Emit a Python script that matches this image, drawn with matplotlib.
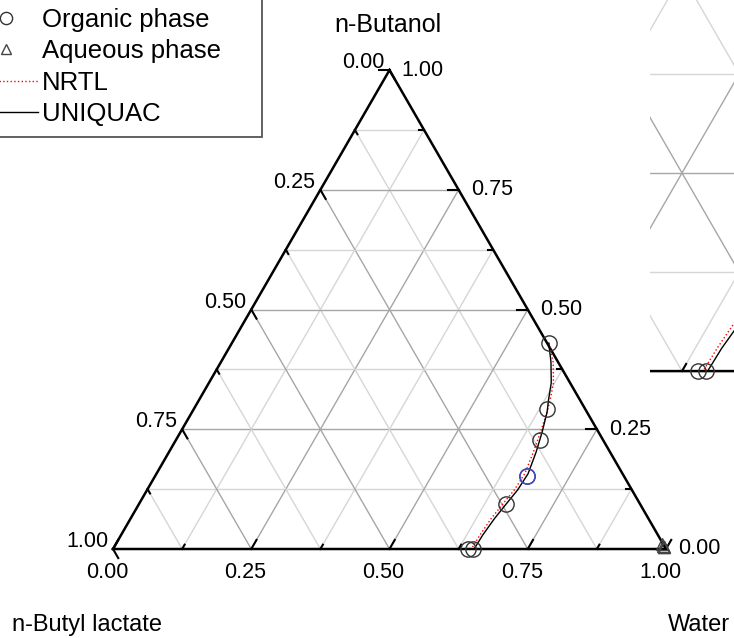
import numpy as np
import matplotlib.pyplot as plt
from matplotlib.patches import Rectangle

plt.rcParams['font.family'] = ['Liberation Sans', 'DejaVu Sans']

# Mass fractions; n-butyl lactate = 1 - water - n-butanol
org_water = [0.573, 0.639, 0.658, 0.673, 0.663, 0.651, 0.642]
org_butanol = [0.430, 0.292, 0.228, 0.152, 0.095, 0.000, 0.000]

aq_water = [0.988, 0.991, 0.993, 0.995]
aq_butanol = [0.010, 0.007, 0.005, 0.004]

# binodal curves (organic branch)
uniquac_water = [0.573, 0.597, 0.619, 0.632, 0.642, 0.654, 0.664, 0.672, 0.670, 0.664, 0.658, 0.654, 0.653]
uniquac_butanol = [0.430, 0.390, 0.347, 0.311, 0.286, 0.244, 0.202, 0.157, 0.123, 0.094, 0.063, 0.029, 0.000]
nrtl_water = [0.573, 0.601, 0.623, 0.635, 0.642, 0.651, 0.659, 0.666, 0.664, 0.658, 0.652, 0.649, 0.648]
nrtl_butanol = [0.430, 0.390, 0.347, 0.311, 0.286, 0.244, 0.202, 0.157, 0.123, 0.094, 0.063, 0.029, 0.000]

tick_vals = [0.0, 0.25, 0.5, 0.75, 1.0]
tick_labels = ['0.00', '0.25', '0.50', '0.75', '1.00']

H = np.sqrt(3) / 2


def to_xy(water, butanol):
    w = np.asarray(water)
    b = np.asarray(butanol)
    return w + b / 2, b * H


def draw_ternary(ax):
    # grid every 1/8
    for k in range(1, 8):
        f = k / 8
        c = '#a6a6a6' if k % 2 == 0 else '#d6d6d6'
        ax.plot([f / 2, 1 - f / 2], [f * H, f * H], color=c, lw=1, zorder=1)
        ax.plot([f, f + (1 - f) / 2], [0, (1 - f) * H], color=c, lw=1, zorder=1)
        ax.plot([1 - f, (1 - f) / 2], [0, (1 - f) * H], color=c, lw=1, zorder=1)
    ax.plot([0, 1, 0.5, 0], [0, 0, H, 0], color='black', lw=1.8, zorder=2,
            solid_joinstyle='miter')
    # ticks: long at quarters, short at eighths
    for k in range(9):
        f = k / 8
        tl = 0.019 if k % 2 == 0 else 0.009
        ax.plot([f, f + tl / 2], [0, tl * H], color='black', lw=1.5, zorder=2)
        x, y = 1 - f / 2, f * H
        ax.plot([x, x - tl], [y, y], color='black', lw=1.5, zorder=2)
        x, y = (1 - f) / 2, (1 - f) * H
        ax.plot([x, x + tl / 2], [y, y - tl * H], color='black', lw=1.5, zorder=2)

    x, y = to_xy(org_water, org_butanol)
    ax.plot(x, y, 'o', ms=11, mfc='none', mec='#333333', mew=1, zorder=4,
            label='Organic phase')
    ax.plot(x[3], y[3], 'o', ms=11, mfc='none', mec='#4646c8', mew=1, zorder=4)
    x, y = to_xy(aq_water, aq_butanol)
    ax.plot(x, y, '^', ms=9, mfc='none', mec='#444444', mew=1, zorder=4,
            label='Aqueous phase')
    x, y = to_xy(nrtl_water, nrtl_butanol)
    ax.plot(x, y, color='red', ls=':', lw=1, zorder=3, label='NRTL')
    x, y = to_xy(uniquac_water, uniquac_butanol)
    ax.plot(x, y, color='black', lw=1, zorder=3, label='UNIQUAC')


fig = plt.figure(figsize=(7.34, 6.38), dpi=100)
ax = fig.add_axes([0, 0, 1, 1])
ax.set_xlim(-113 / 553, 621 / 553)
ax.set_ylim(-89 / 553, 549 / 553)
ax.set_axis_off()
draw_ternary(ax)

u = 1 / 553
for v, lab in zip(tick_vals, tick_labels):
    # water (bottom)
    ax.text(v - 6 * u, -23 * u, lab, ha='center', va='center', fontsize=15.5)
    # n-butanol (right)
    ax.text(1 - v / 2 + 12 * u, v * H, lab, ha='left', va='center', fontsize=15.5)
    # n-butyl lactate (left)
    ax.text((1 - v) / 2 - 5 * u, (1 - v) * H + 2 * u, lab, ha='right',
            va='baseline', fontsize=15.5)

ax.text(275 * u, 524 * u, 'n-Butanol', ha='center', va='center', fontsize=18)
ax.text(-101 * u, -76 * u, 'n-Butyl lactate', ha='left', va='center', fontsize=17)
ax.text(617 * u, -76 * u, 'Water', ha='right', va='center', fontsize=17)

leg = ax.legend(loc='lower left', bbox_to_anchor=(-26 / 734, 1 - 126 / 638),
                bbox_transform=fig.transFigure, frameon=False, fontsize=18.5,
                handlelength=2.5, handletextpad=0.16, labelspacing=0.29,
                borderpad=0, borderaxespad=0, markerscale=0.8)
fig.add_artist(Rectangle((-5 / 734, 1 - 137 / 638), 267 / 734, 142 / 638,
                         transform=fig.transFigure, facecolor='none',
                         edgecolor='#555555', lw=1.3))

# zoomed inset (partly outside the picture)
ax2 = fig.add_axes([650 / 734, 253 / 638, 150 / 734, 405 / 638])
ax2.set_xlim(0.590, 0.754)
ax2.set_ylim(-0.0152, 0.4274)
ax2.set_axis_off()
draw_ternary(ax2)

fig.savefig('out.png', dpi=100)
